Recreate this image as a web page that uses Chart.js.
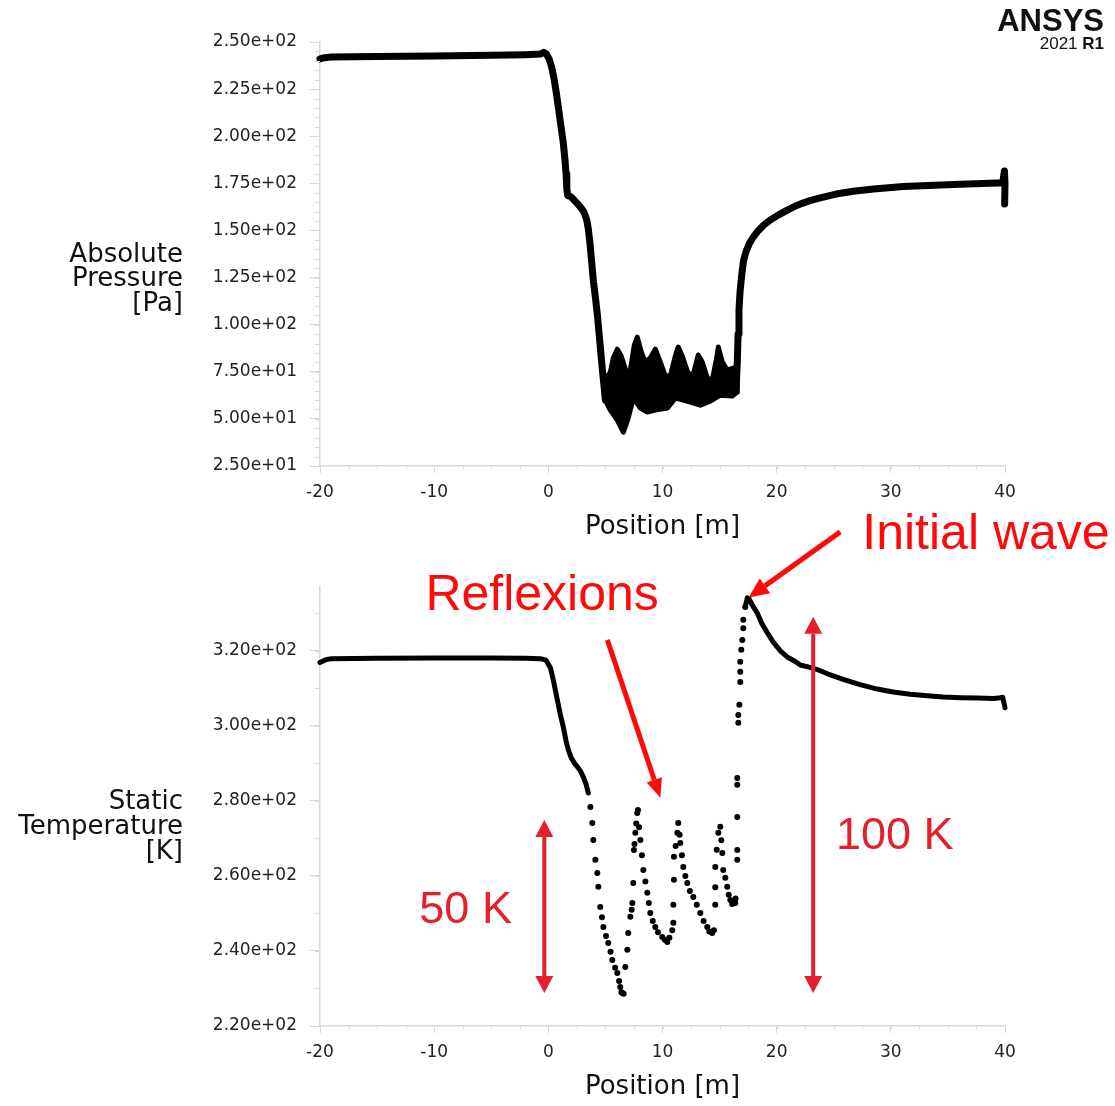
<!DOCTYPE html>
<html>
<head>
<meta charset="utf-8">
<script src="https://cdn.jsdelivr.net/npm/chart.js@4.4.1/dist/chart.umd.min.js"></script>
<style>
  body { margin: 0; background: #fff; }
  #wrap { position: relative; width: 1115px; height: 1106px; }
  canvas { position: absolute; left: 0; }
  #pressureChart { top: 0; }
  #tempChart { top: 500px; }
</style>
</head>
<body>
<div id="wrap">
  <canvas id="pressureChart" width="1115" height="546"></canvas>
  <canvas id="tempChart" width="1115" height="606"></canvas>
</div>
<script>
// tick values
const posTicks = [-20, -10, 0, 10, 20, 30, 40];
const pressTicks = [25, 50, 75, 100, 125, 150, 175, 200, 225, 250];
const tempTicks = [220, 240, 260, 280, 300, 320];

// absolute pressure along the tube (null splits the two smooth branches)
const pressX = [-20, -19.6, -19, -15, -10, -5, -2, -0.7, -0.4, -0.15, 0.1, 0.3, 0.5, 0.7, 0.9, 1.1, 1.3, 1.45, 1.55, 1.62, 1.7, 1.95,
  2.2, 2.5, 2.8, 3.1, 3.35, 3.5, 3.65, 3.8, 3.95, 4.15, 4.3, 4.45, 4.6, 4.75, 4.9, 5.0,
  null,
  16.45, 16.55, 16.62, 16.7, 16.8, 16.95, 17.1, 17.3, 17.6, 17.95, 18.4, 18.9, 19.44, 20.1, 20.93, 21.6, 22.3, 23.0, 23.82, 25.2,
  26.71, 28.5, 31.09, 35.46, 39.32, 39.8, 39.95, 40, 39.97];
const pressY = [241.0, 241.7, 242.0, 242.3, 242.6, 243.0, 243.3, 243.6, 244.5, 243.5, 240.5, 236.5, 230.5, 223, 214.5, 205.5, 197, 188, 180, 172, 168.5, 168,
  166.5, 164.5, 162.5, 160, 156, 151, 143, 133, 123, 113, 105, 95, 85, 75, 66, 60,
  null,
  66, 80, 95, 108, 118, 127, 134, 138.5, 143, 146.5, 150, 153, 155.5, 158, 160.8, 162.8, 164.5, 166, 167.3, 169.3,
  170.8, 172, 173.3, 174.4, 175.2, 175.3, 181.5, 175, 164];

// oscillating band in the low-pressure region: upper edge, then lower edge back
const bandX = [4.99, 5.43, 5.69, 6.04, 6.39, 6.83, 7.18, 7.53, 7.79, 8.14, 8.49, 8.93, 9.37, 9.81, 10.25, 10.68, 11.12, 11.38, 11.73, 12.26, 12.7, 13.13, 13.49, 13.92, 14.36, 14.71, 14.89, 15.24, 15.67, 16.2, 16.55,
  16.55, 16.11, 15.06, 14.19, 13.31, 12.43, 11.82, 11.12, 10.42, 9.37, 8.67, 8.06, 7.44, 7.0, 6.57, 6.04, 5.43, 4.99];
const bandY = [70.6, 74.8, 82.3, 87.0, 83.3, 74.8, 75.9, 89.2, 93.4, 85.5, 80.1, 82.3, 87.0, 80.1, 72.7, 72.7, 83.3, 88.1, 83.3, 73.8, 73.8, 83.9, 80.1, 71.7, 70.6, 81.2, 88.1, 80.1, 75.9, 77.0, 74.8,
  64.2, 62.1, 62.6, 59.4, 57.3, 58.9, 60.0, 61.0, 55.7, 54.7, 53.6, 55.7, 61.0, 50.4, 43.0, 49.4, 54.7, 60.0];

// static temperature, densely resolved parts
const tempX = [-20, -19.5, -19, -15, -10, -5, -2, -0.7, -0.2, 0.18, 0.45, 0.79, 1.05, 1.31, 1.55, 1.75, 2.0, 2.3, 2.54, 2.8, 3.06, 3.3, 3.5,
  null,
  17.25, 17.43, 17.6, 17.8, 18.0, 18.3, 18.7, 19.18, 19.7, 20.32, 21.0, 21.6, 22.07, 23.0, 23.56, 24.5, 25.83, 27.3, 28.81, 30.2,
  31.7, 33.2, 34.59, 36.1, 37.57, 39.0, 39.58, 39.8, 40];
const tempY = [316.9, 317.6, 317.9, 318.0, 318.1, 318.1, 318.0, 317.9, 317.5, 315.5, 312, 306.9, 303, 299.7, 296, 293.6, 291.5, 290, 289.1, 288, 286.4, 284.5, 282.1,
  null,
  331.7, 334.1, 333.8, 332.5, 331.5, 330.1, 327.3, 324.8, 322.3, 320, 318.2, 317.2, 316.2, 315.5, 315, 313.8, 312.4, 311, 309.8, 309,
  308.4, 308, 307.7, 307.5, 307.4, 307.3, 307.5, 307.6, 304.8];

// static temperature, isolated cells across the fronts
const dotX = [3.68, 3.85, 3.94, 4.12, 4.29, 4.38, 4.55, 4.7, 4.82, 5.05, 5.25, 5.45, 5.6, 5.85, 6.04, 6.2, 6.3, 6.4, 6.48, 6.6,
  6.74, 6.92, 7.0, 7.18, 7.3, 7.36, 7.44, 7.5, 7.55, 7.62, 7.7, 7.79, 7.85,
  7.95, 8.06, 8.2, 8.32, 8.5, 8.67, 8.8, 8.93, 9.15, 9.37, 9.6, 9.98, 10.2, 10.42, 10.6,
  10.85, 10.95, 10.95, 11.0, 11.0, 11.15, 11.3, 11.38,
  11.5, 11.56, 11.7, 11.82, 12.0, 12.17, 12.4, 12.7, 13.0, 13.31, 13.6, 13.92, 14.1, 14.36, 14.5,
  14.62, 14.62, 14.62, 14.75, 14.89, 15.06,
  15.15, 15.24, 15.32, 15.5, 15.67, 15.8, 15.94, 16.1, 16.37, 16.4,
  16.55, 16.55, 16.55, 16.55, 16.55, 16.64, 16.64, 16.73, 16.81, 16.81, 16.81, 16.9, 16.99, 17.08, 17.08, 17.25];
const dotY = [278.4, 274.1, 269.6, 264.3, 260.8, 257.1, 251.7, 249, 246.4, 244, 242.1, 239.8, 237.6, 235.5, 234.1, 232, 230.4, 229, 228.8, 228.6,
  235.7, 240.3, 244.8, 249.1, 251, 252.8, 258.1, 266.9, 268.5, 271.5, 274, 276.8, 277.6,
  273, 269.6, 265.5, 261.6, 258.5, 255.5, 252.8, 250.1, 248, 246.4, 245, 243.7, 243, 242.4, 243.5,
  245.5, 247.5, 252.3, 259, 265.1, 268, 271.5, 274.1,
  271, 268.8, 265.5, 262.4, 260, 258.1, 256, 254.4, 252.3, 250.1, 248, 246.4, 245.2, 244.8, 245.5,
  252.3, 257, 262.4, 267, 271.5, 273.1,
  269.5, 266.1, 261.6, 259.5, 257.1, 255, 253.6, 252.5, 252.8, 254,
  264.3, 266.9, 275.7, 284.3, 286.1, 300.8, 302.9, 305.6, 311.7, 314.4, 317.1, 320.3, 322.9, 326, 328.3, 331.7];

const AXIS_GREY = '#d9d9d9';
const TEXT_DARK = '#222';
const RED = '#ff0a0a';
const CRIMSON = '#e51f2d';

Chart.defaults.font.family = 'DejaVu Sans';

function toPoints(xs, ys) {
  return xs.map((x, i) => ({ x: x, y: ys[i] }));
}

// 2.5e2 -> "2.50e+02"
function sci(v) {
  const parts = v.toExponential(2).split('e');
  const exp = parts[1];
  return parts[0] + 'e' + exp[0] + exp.slice(1).padStart(2, '0');
}

// short unlabeled ticks between the major ones
const minorTicks = {
  id: 'minorTicks',
  afterDraw(chart, args, opts) {
    const { ctx } = chart;
    const x = chart.scales.x, y = chart.scales.y;
    ctx.save();
    ctx.strokeStyle = AXIS_GREY;
    ctx.lineWidth = 1;
    for (let v = x.min; v <= x.max + 1e-6; v += opts.xStep) {
      const px = Math.round(x.getPixelForValue(v)) + 0.5;
      ctx.beginPath();
      ctx.moveTo(px, x.top);
      ctx.lineTo(px, x.top + opts.xLen);
      ctx.stroke();
    }
    for (let v = opts.yStart; v <= y.max + 1e-6; v += opts.yStep) {
      const py = Math.round(y.getPixelForValue(v)) + 0.5;
      ctx.beginPath();
      ctx.moveTo(y.right - opts.yLen, py);
      ctx.lineTo(y.right, py);
      ctx.stroke();
    }
    ctx.restore();
  }
};

// horizontal, right-aligned quantity name left of the y axis
const sideTitle = {
  id: 'sideTitle',
  afterDraw(chart, args, opts) {
    const { ctx } = chart;
    ctx.save();
    ctx.font = '26px "DejaVu Sans"';
    ctx.fillStyle = '#111';
    ctx.textAlign = 'right';
    ctx.textBaseline = 'middle';
    opts.lines.forEach((line, i) => ctx.fillText(line, opts.right, opts.top + i * opts.lineHeight));
    ctx.restore();
  }
};

const logo = {
  id: 'logo',
  afterDraw(chart, args, opts) {
    if (!opts.show) return;
    const { ctx } = chart;
    ctx.save();
    ctx.fillStyle = '#111';
    ctx.textAlign = 'right';
    ctx.textBaseline = 'alphabetic';
    ctx.font = 'bold 31px "Liberation Sans"';
    ctx.fillText('ANSYS', 1104, 31);
    ctx.font = 'bold 17px "Liberation Sans"';
    const r1 = 'R1';
    const w = ctx.measureText(r1).width;
    ctx.fillText(r1, 1104, 49);
    ctx.font = '17px "Liberation Sans"';
    ctx.fillText('2021 ', 1104 - w, 49);
    ctx.restore();
  }
};

function drawArrow(ctx, x1, y1, x2, y2, both, head, half) {
  const ang = Math.atan2(y2 - y1, x2 - x1);
  const cos = Math.cos(ang), sin = Math.sin(ang);
  const sx = both ? x1 + cos * head : x1, sy = both ? y1 + sin * head : y1;
  ctx.beginPath();
  ctx.moveTo(sx, sy);
  ctx.lineTo(x2 - cos * head, y2 - sin * head);
  ctx.stroke();
  const tip = (tx, ty, c, s) => {
    ctx.beginPath();
    ctx.moveTo(tx, ty);
    ctx.lineTo(tx - c * head - s * half, ty - s * head + c * half);
    ctx.lineTo(tx - c * head + s * half, ty - s * head - c * half);
    ctx.closePath();
    ctx.fill();
  };
  tip(x2, y2, cos, sin);
  if (both) tip(x1, y1, -cos, -sin);
}

// callout arrows and labels, positioned in data units
const callouts = {
  id: 'callouts',
  afterDraw(chart, args, opts) {
    if (!opts.arrows) return;
    const { ctx } = chart;
    const x = chart.scales.x, y = chart.scales.y;
    ctx.save();
    opts.arrows.forEach(a => {
      ctx.strokeStyle = a.color;
      ctx.fillStyle = a.color;
      ctx.lineWidth = a.width;
      drawArrow(ctx, x.getPixelForValue(a.x1), y.getPixelForValue(a.y1),
        x.getPixelForValue(a.x2), y.getPixelForValue(a.y2), a.both, a.head, a.half);
    });
    opts.labels.forEach(l => {
      ctx.fillStyle = l.color;
      ctx.font = l.size + 'px "Liberation Sans"';
      ctx.textAlign = 'left';
      ctx.textBaseline = 'alphabetic';
      ctx.fillText(l.text, x.getPixelForValue(l.x), y.getPixelForValue(l.y));
    });
    ctx.restore();
  }
};

function makeScales(yTicks, yMin, yMax) {
  return {
    x: {
      type: 'linear',
      min: -20,
      max: 40,
      border: { display: true, color: AXIS_GREY, width: 1.5 },
      grid: { drawOnChartArea: false, drawTicks: true, tickLength: 7, tickColor: AXIS_GREY, color: AXIS_GREY },
      ticks: { color: TEXT_DARK, font: { size: 17 }, padding: 9, maxRotation: 0 },
      afterBuildTicks: s => { s.ticks = posTicks.map(v => ({ value: v })); },
      afterFit: s => { s.height = 80; },
      title: { display: true, text: 'Position [m]', color: '#111', font: { size: 26 }, padding: { top: 0, bottom: 3 } }
    },
    y: {
      type: 'linear',
      min: yMin,
      max: yMax,
      border: { display: true, color: AXIS_GREY, width: 1.5 },
      grid: { drawOnChartArea: false, drawTicks: true, tickLength: 10, tickColor: AXIS_GREY, color: AXIS_GREY },
      ticks: { color: TEXT_DARK, font: { size: 17 }, padding: 13, callback: v => sci(v) },
      afterBuildTicks: s => { s.ticks = yTicks.map(v => ({ value: v })); },
      afterFit: s => { s.width = 320; }
    }
  };
}

const common = {
  responsive: false,
  animation: false,
  events: [],
  devicePixelRatio: 1
};

new Chart(document.getElementById('pressureChart'), {
  type: 'line',
  data: {
    datasets: [
      {
        data: toPoints(bandX, bandY),
        borderColor: '#000',
        backgroundColor: '#000',
        borderWidth: 5,
        borderJoinStyle: 'round',
        pointRadius: 0,
        fill: 'shape',
        tension: 0
      },
      {
        data: toPoints(pressX, pressY),
        borderColor: '#000',
        borderWidth: 7,
        borderCapStyle: 'round',
        borderJoinStyle: 'round',
        pointRadius: 0,
        spanGaps: false,
        fill: false,
        tension: 0,
        clip: 12
      }
    ]
  },
  options: Object.assign({}, common, {
    layout: { padding: { top: 42, right: 110, left: 0, bottom: 0 } },
    scales: makeScales(pressTicks, 25, 250),
    plugins: {
      legend: { display: false },
      tooltip: { enabled: false },
      minorTicks: { xStep: 2.5, xLen: 3, yStart: 25, yStep: 5, yLen: 5 },
      sideTitle: { lines: ['Absolute', 'Pressure', '[Pa]'], right: 183, top: 255, lineHeight: 24.5 },
      logo: { show: true }
    }
  }),
  plugins: [minorTicks, sideTitle, logo]
});

new Chart(document.getElementById('tempChart'), {
  type: 'line',
  data: {
    datasets: [
      {
        data: toPoints(tempX, tempY),
        borderColor: '#000',
        borderWidth: 5,
        borderCapStyle: 'round',
        borderJoinStyle: 'round',
        pointRadius: 0,
        spanGaps: false,
        fill: false,
        tension: 0,
        clip: 12
      },
      {
        data: toPoints(dotX, dotY),
        showLine: false,
        pointRadius: 3,
        pointBorderWidth: 0,
        pointBackgroundColor: '#000',
        borderColor: '#000'
      }
    ]
  },
  options: Object.assign({}, common, {
    layout: { padding: { top: 87, right: 110, left: 0, bottom: 0 } },
    scales: makeScales(tempTicks, 220, 337),
    plugins: {
      legend: { display: false },
      tooltip: { enabled: false },
      minorTicks: { xStep: 2.5, xLen: 3, yStart: 220, yStep: 10, yLen: 5 },
      sideTitle: { lines: ['Static', 'Temperature', '[K]'], right: 183, top: 302, lineHeight: 25 },
      logo: { show: false },
      callouts: {
        arrows: [
          { x1: 25.57, y1: 351.7, x2: 17.55, y2: 334.2, both: false, color: RED, width: 5, head: 20, half: 9 },
          { x1: 5.17, y1: 322.9, x2: 9.81, y2: 280.8, both: false, color: RED, width: 5, head: 19, half: 8 },
          { x1: -0.35, y1: 274.9, x2: -0.35, y2: 228.8, both: true, color: CRIMSON, width: 4, head: 17, half: 9 },
          { x1: 23.2, y1: 329.1, x2: 23.2, y2: 228.8, both: true, color: CRIMSON, width: 4, head: 17, half: 9 }
        ],
        labels: [
          { text: 'Initial wave', x: 27.5, y: 347.2, color: RED, size: 50 },
          { text: 'Reflexions', x: -10.77, y: 330.9, color: RED, size: 50 },
          { text: '50 K', x: -11.3, y: 247.5, color: CRIMSON, size: 45 },
          { text: '100 K', x: 25.2, y: 267.2, color: CRIMSON, size: 45 }
        ]
      }
    }
  }),
  plugins: [minorTicks, sideTitle, logo, callouts]
});
</script>
</body>
</html>
